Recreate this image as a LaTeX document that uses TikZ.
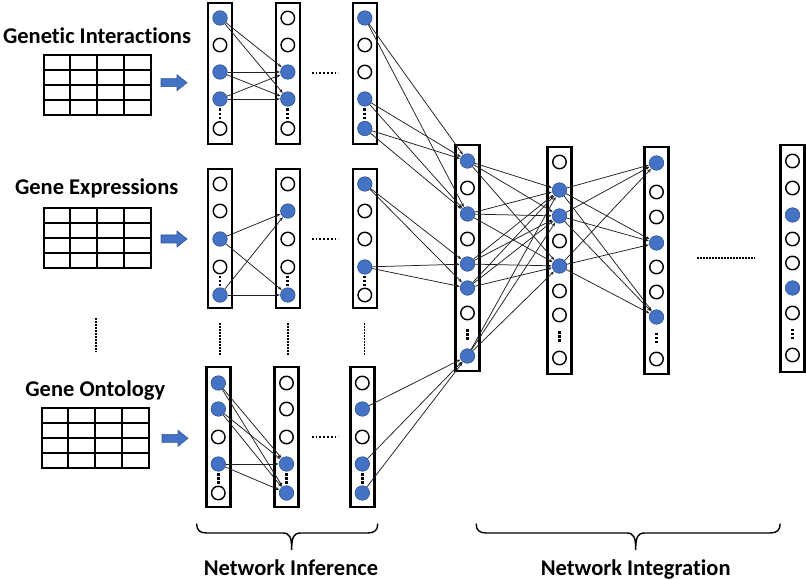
\documentclass[tikz,border=0pt]{standalone}
\usepackage{fontspec}
\setmainfont{Carlito}[Ligatures={NoCommon}]
\usetikzlibrary{arrows.meta,calc}
\definecolor{nblue}{HTML}{4472C4}
\definecolor{nblueD}{HTML}{2F528F}
\definecolor{linkc}{HTML}{202020}
\tikzset{
  colbox/.style={draw=black, line width=2.5pt},
  on/.style={circle, minimum size=14.5pt, inner sep=0pt, fill=nblue, draw=nblueD, line width=0.6pt},
  off/.style={circle, minimum size=13.5pt, inner sep=0pt, fill=white, draw=black, line width=1.4pt},
  link/.style={draw=linkc, line width=0.75pt, -{Stealth[length=4pt,width=3pt]}, shorten >=0.3pt},
  cdots/.style={draw=black, line width=2.8pt, dash pattern=on 2.5pt off 1.6pt},
  vdots/.style={draw=black, line width=1.6pt, dash pattern=on 1.5pt off 1.5pt},
  hdots/.style={draw=black, line width=1.8pt, dash pattern=on 1.8pt off 2pt},
  tab/.style={draw=black, line width=2pt, line cap=rect},
  blockarrow/.style={fill=nblue, draw=nblueD, line width=0.6pt},
  brace/.style={draw=black, line width=1.4pt, line cap=round},
  lbl/.style={font=\fontsize{22.5}{26}\selectfont\bfseries, inner sep=0pt, anchor=base}
}
\newcommand\ncol[7]{%
  \draw[colbox] (#2-12,#3) rectangle (#2+12,#4);
  \foreach \i/\y/\s in {#5} \node[\s] (#1-\i) at (#2,\y) {};
  \coordinate (#1-mid) at ($(#1-#6)!0.5!(#1-#7)$);
  \draw[cdots] ([yshift=5.3pt]#1-mid) -- ([yshift=-5.3pt]#1-mid);
}
\newcommand\tablegrid[2]{%
  \foreach \k in {0,...,4} {
    \draw[tab] (#1+\k*26.75,#2) -- (#1+\k*26.75,#2+60);
    \draw[tab] (#1,#2+\k*15) -- (#1+107,#2+\k*15);
  }
}
\begin{document}
\begin{tikzpicture}[x=1pt,y=-1pt]
\useasboundingbox (0,0) rectangle (806,580);

% ---- input labels and tables
\node[lbl] (lab1) at (97,44) {Genetic Interactions};
\node[lbl] (lab2) at (96.7,195) {Gene Expressions};
\node[lbl] (lab3) at (95.3,396.7) {Gene Ontology};
\tablegrid{43.7}{55}
\tablegrid{43.7}{207.7}
\tablegrid{41.7}{408.3}
\draw[vdots] (96,318) -- (96,352);

% ---- block arrows
\foreach \ax/\ay in {161/82.7, 161/239, 162/438.3}
  \draw[blockarrow] (\ax,\ay-4) -- (\ax+16,\ay-4) -- (\ax+16,\ay-8) -- (\ax+26,\ay) -- (\ax+16,\ay+8) -- (\ax+16,\ay+4) -- (\ax,\ay+4) -- cycle;

% ---- network inference, group 1
\ncol{g1a}{220}{3}{144}{1/18/on,2/45/off,3/72/on,4/99/on,5/128.5/off}{4}{5}
\ncol{g1b}{287.8}{3}{144}{1/18/off,2/45/off,3/72/on,4/99/on,5/128.5/off}{4}{5}
\ncol{g1c}{364.8}{3}{144}{1/18/on,2/45/off,3/72/off,4/99/on,5/128.5/on}{4}{5}
% group 2
\ncol{g2a}{220}{169}{308}{1/184/off,2/211/off,3/239/on,4/267/off,5/295/on}{4}{5}
\ncol{g2b}{287.8}{169}{308}{1/184/off,2/211/on,3/239/off,4/267/off,5/295/on}{4}{5}
\ncol{g2c}{364.8}{169}{308}{1/184/on,2/211/off,3/239/off,4/267/on,5/295/off}{4}{5}
% group 3
\ncol{g3a}{218.3}{367}{507}{1/383/on,2/409/on,3/437/off,4/464/on,5/493/off}{4}{5}
\ncol{g3b}{286.5}{367}{507}{1/383/off,2/409/off,3/437/off,4/464/on,5/493/on}{4}{5}
\ncol{g3c}{362.3}{367}{507}{1/383/off,2/409/on,3/437/off,4/464/on,5/493/on}{4}{5}

% dotted separators in inference
\foreach \x in {220,287.8,364.3} \draw[vdots] (\x,323) -- (\x,356);
\foreach \y in {73,239,436.7} \draw[hdots] (311.7,\y) -- (338.3,\y);

% ---- network integration
\ncol{A}{467.5}{145}{371}{1/161/on,2/188/off,3/214/on,4/239/off,5/264/on,6/288/on,7/313/off,8/356/on}{7}{8}
\ncol{B}{559.5}{147}{374}{1/162/off,2/190/on,3/216/on,4/241/off,5/266/on,6/291/off,7/315/off,8/358/off}{7}{8}
\ncol{C}{656.5}{147}{374}{1/163/on,2/192/off,3/217/off,4/243/on,5/267/off,6/292/off,7/317/on,8/359/off}{7}{8}
\ncol{D}{792.5}{145}{372}{1/161/off,2/188/off,3/215/on,4/239/off,5/263/off,6/288/on,7/313/off,8/355/off}{7}{8}
\draw[draw=black, line width=2pt, dash pattern=on 1.5pt off 1.5pt] (697,258.3) -- (755,258.3);

% ---- connectors
\foreach \s/\t in {g1a-1/g1b-3, g1a-1/g1b-4, g1a-3/g1b-3, g1a-3/g1b-4, g1a-4/g1b-3, g1a-4/g1b-4,
                   g2a-3/g2b-2, g2a-3/g2b-5, g2a-5/g2b-2, g2a-5/g2b-5,
                   g3a-1/g3b-4, g3a-1/g3b-5, g3a-2/g3b-4, g3a-2/g3b-5, g3a-4/g3b-4, g3a-4/g3b-5,
                   g1c-1/A-1, g1c-1/A-3, g1c-4/A-1, g1c-4/A-3, g1c-5/A-1, g1c-5/A-3,
                   g2c-1/A-5, g2c-1/A-6, g2c-4/A-5, g2c-4/A-6,
                   g3c-2/A-8, g3c-4/A-8, g3c-5/A-8}
  \draw[link] (\s) -- (\t);
\foreach \s in {1,3,5,6,8} \foreach \t in {2,3,5} \draw[link] (A-\s) -- (B-\t);
\foreach \s in {2,3,5} \foreach \t in {1,4,7} \draw[link] (B-\s) -- (C-\t);

% ---- braces and section labels
\draw[brace] (196.7,524) .. controls (196.7,530) and (199.7,533) .. (206.7,533) -- (282.7,533)
  .. controls (289.7,533) and (291.7,537) .. (291.7,550)
  .. controls (291.7,537) and (293.7,533) .. (300.7,533) -- (367.7,533)
  .. controls (374.7,533) and (377.7,530) .. (377.7,524);
\draw[brace] (476.2,524) .. controls (476.2,530) and (479.2,533) .. (486.2,533) -- (626.7,533)
  .. controls (633.7,533) and (635.7,537) .. (635.7,550)
  .. controls (635.7,537) and (637.7,533) .. (644.7,533) -- (770.1,533)
  .. controls (777.1,533) and (780.1,530) .. (780.1,524);
\node[lbl] (ni) at (291,575) {Network Inference};
\node[lbl] (nint) at (635.7,575) {Network Integration};
\end{tikzpicture}
\end{document}
